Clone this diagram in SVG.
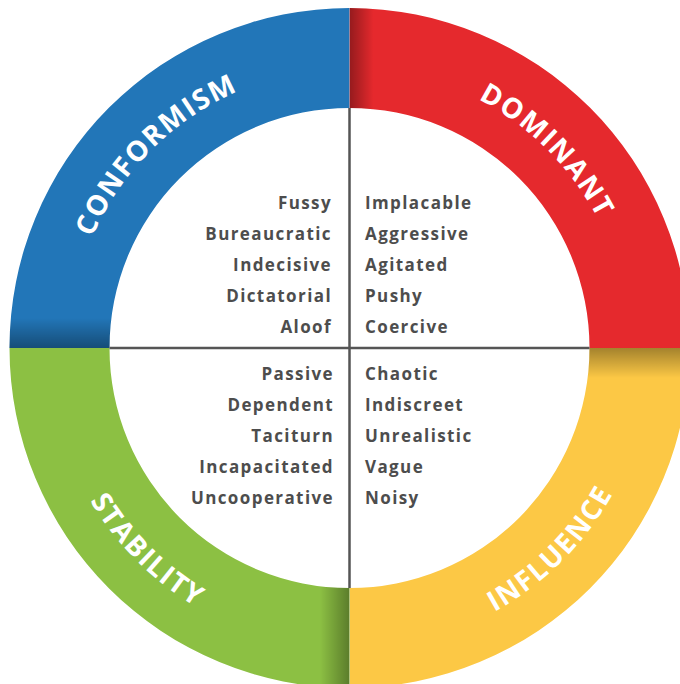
<svg xmlns="http://www.w3.org/2000/svg" width="680" height="684" viewBox="0 0 680 684">
  <style>
    .word { font-family: "Open Sans", "Liberation Sans", sans-serif; font-weight: 700; font-size: 17px; letter-spacing: 1.4px; fill: #4d4d4d; }
    .left { text-anchor: end; }
    .right { text-anchor: start; }
    .title { font-family: "Open Sans", "Liberation Sans", sans-serif; font-weight: 700; font-size: 28px; letter-spacing: 1.6px; fill: #ffffff; }
    .divider { stroke: #555555; stroke-width: 2.5; fill: none; }
  </style>
  <defs>
    <!-- shading along the straight edge of each quadrant -->
    <linearGradient id="shadeDown" x1="0" y1="0" x2="0" y2="1">
      <stop offset="0" stop-color="#000" stop-opacity="0"/>
      <stop offset="1" stop-color="#000" stop-opacity="0.35"/>
    </linearGradient>
    <linearGradient id="shadeLeft" x1="1" y1="0" x2="0" y2="0">
      <stop offset="0" stop-color="#000" stop-opacity="0"/>
      <stop offset="1" stop-color="#000" stop-opacity="0.35"/>
    </linearGradient>
    <linearGradient id="shadeUp" x1="0" y1="1" x2="0" y2="0">
      <stop offset="0" stop-color="#000" stop-opacity="0"/>
      <stop offset="1" stop-color="#000" stop-opacity="0.35"/>
    </linearGradient>
    <linearGradient id="shadeRight" x1="0" y1="0" x2="1" y2="0">
      <stop offset="0" stop-color="#000" stop-opacity="0"/>
      <stop offset="1" stop-color="#000" stop-opacity="0.35"/>
    </linearGradient>
    <clipPath id="clipTL"><path d="M9.5,348 A340,340 0 0 1 349.5,8 L349.5,108 A240,240 0 0 0 109.5,348 Z"/></clipPath>
    <clipPath id="clipTR"><path d="M349.5,8 A340,340 0 0 1 689.5,348 L589.5,348 A240,240 0 0 0 349.5,108 Z"/></clipPath>
    <clipPath id="clipBR"><path d="M689.5,348 A340,340 0 0 1 349.5,688 L349.5,588 A240,240 0 0 0 589.5,348 Z"/></clipPath>
    <clipPath id="clipBL"><path d="M349.5,688 A340,340 0 0 1 9.5,348 L109.5,348 A240,240 0 0 0 349.5,588 Z"/></clipPath>
    <!-- arcs carrying the curved titles -->
    <path id="arcTL" d="M69.5,348 A280,280 0 0 1 349.5,68"/>
    <path id="arcTR" d="M349.5,68 A280,280 0 0 1 629.5,348"/>
    <path id="arcBL" d="M48.5,348 A301,301 0 0 0 349.5,649"/>
    <path id="arcBR" d="M349.5,649 A301,301 0 0 0 650.5,348"/>
  </defs>

  <rect width="680" height="684" fill="#ffffff"/>

  <g id="conformism">
    <g clip-path="url(#clipTL)">
      <rect x="0" y="0" width="350" height="348" fill="#2276b8"/>
      <rect x="0" y="318" width="350" height="30" fill="url(#shadeDown)"/>
    </g>
    <text class="title"><textPath href="#arcTL" startOffset="50%" text-anchor="middle">CONFORMISM</textPath></text>
    <text class="word left" x="332" y="209">Fussy</text>
    <text class="word left" x="332" y="240">Bureaucratic</text>
    <text class="word left" x="332" y="271">Indecisive</text>
    <text class="word left" x="332" y="302">Dictatorial</text>
    <text class="word left" x="332" y="333">Aloof</text>
  </g>

  <g id="dominant">
    <g clip-path="url(#clipTR)">
      <rect x="349.5" y="0" width="340" height="348" fill="#e5292d"/>
      <rect x="349.5" y="0" width="24" height="348" fill="url(#shadeLeft)"/>
    </g>
    <text class="title"><textPath href="#arcTR" startOffset="50%" text-anchor="middle">DOMINANT</textPath></text>
    <text class="word right" x="365" y="209">Implacable</text>
    <text class="word right" x="365" y="240">Aggressive</text>
    <text class="word right" x="365" y="271">Agitated</text>
    <text class="word right" x="365" y="302">Pushy</text>
    <text class="word right" x="365" y="333">Coercive</text>
  </g>

  <g id="influence">
    <g clip-path="url(#clipBR)">
      <rect x="349.5" y="348" width="340" height="340" fill="#fcc845"/>
      <rect x="349.5" y="348" width="340" height="30" fill="url(#shadeUp)"/>
    </g>
    <text class="title"><textPath href="#arcBR" startOffset="50%" text-anchor="middle">INFLUENCE</textPath></text>
    <text class="word right" x="365" y="380">Chaotic</text>
    <text class="word right" x="365" y="411">Indiscreet</text>
    <text class="word right" x="365" y="442">Unrealistic</text>
    <text class="word right" x="365" y="473">Vague</text>
    <text class="word right" x="365" y="504">Noisy</text>
  </g>

  <g id="stability">
    <g clip-path="url(#clipBL)">
      <rect x="0" y="348" width="350" height="340" fill="#8cc043"/>
      <rect x="320" y="348" width="29.5" height="340" fill="url(#shadeRight)"/>
    </g>
    <text class="title"><textPath href="#arcBL" startOffset="50%" text-anchor="middle">STABILITY</textPath></text>
    <text class="word left" x="334" y="380">Passive</text>
    <text class="word left" x="334" y="411">Dependent</text>
    <text class="word left" x="334" y="442">Taciturn</text>
    <text class="word left" x="334" y="473">Incapacitated</text>
    <text class="word left" x="334" y="504">Uncooperative</text>
  </g>

  <g id="connectors">
    <line class="divider" x1="349.5" y1="108" x2="349.5" y2="588"/>
    <line class="divider" x1="109.5" y1="348" x2="589.5" y2="348"/>
  </g>
</svg>
